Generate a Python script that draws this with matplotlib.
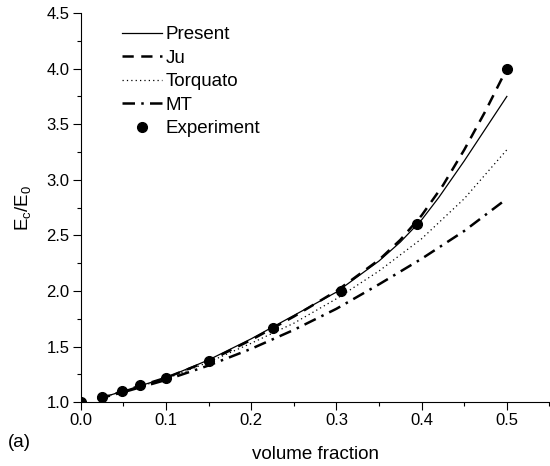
import numpy as np
import matplotlib
matplotlib.use("Agg")
import matplotlib.pyplot as plt
from matplotlib.ticker import MultipleLocator

plt.rcParams['font.family'] = ['Liberation Sans', 'DejaVu Sans']
plt.rcParams['mathtext.fontset'] = 'custom'
plt.rcParams['mathtext.rm'] = 'Liberation Sans'
plt.rcParams['mathtext.it'] = 'Liberation Sans:italic'

# curves
present_x = [0.02, 0.05, 0.1, 0.15, 0.2, 0.25, 0.3, 0.35, 0.375, 0.4, 0.42, 0.45, 0.475, 0.5]
present_y = [1.03, 1.10, 1.22, 1.38, 1.57, 1.78, 1.99, 2.27, 2.44, 2.64, 2.84, 3.17, 3.46, 3.75]

ju_x = [0.02, 0.05, 0.1, 0.15, 0.2, 0.25, 0.3, 0.35, 0.375, 0.4, 0.425, 0.45, 0.475, 0.5]
ju_y = [1.03, 1.10, 1.22, 1.37, 1.56, 1.77, 2.00, 2.28, 2.46, 2.68, 2.95, 3.27, 3.62, 4.00]

torq_x = [0.02, 0.05, 0.1, 0.15, 0.2, 0.25, 0.3, 0.35, 0.4, 0.45, 0.5]
torq_y = [1.03, 1.10, 1.21, 1.36, 1.53, 1.71, 1.93, 2.18, 2.47, 2.83, 3.27]

mt_x = [0.02, 0.05, 0.1, 0.15, 0.2, 0.25, 0.3, 0.35, 0.4, 0.45, 0.5]
mt_y = [1.03, 1.09, 1.20, 1.33, 1.48, 1.65, 1.84, 2.06, 2.29, 2.54, 2.83]

exp_x = [0.0, 0.025, 0.048, 0.07, 0.1, 0.15, 0.225, 0.305, 0.395, 0.5]
exp_y = [1.0, 1.05, 1.10, 1.15, 1.22, 1.37, 1.67, 2.00, 2.60, 4.00]

fig = plt.figure(figsize=(5.5, 4.66), dpi=100)
ax = fig.add_axes([0.147, 0.137, 0.852, 0.835])

ax.plot(present_x, present_y, color='k', lw=0.9, label='Present')
ax.plot(ju_x, ju_y, color='k', lw=1.8, ls=(0, (4.5, 3)), label='Ju')
ax.plot(torq_x, torq_y, color='k', lw=0.9, ls=(0, (1, 2.5)), label='Torquato')
ax.plot(mt_x, mt_y, color='k', lw=1.8, ls=(0, (5, 2.5, 1, 2.5)), label='MT')
ax.plot(exp_x, exp_y, 'o', color='k', ms=7, label='Experiment')

ax.set_xlim(0, 0.55)
ax.set_ylim(1.0, 4.5)
ax.xaxis.set_major_locator(MultipleLocator(0.1))
ax.xaxis.set_minor_locator(MultipleLocator(0.05))
ax.yaxis.set_major_locator(MultipleLocator(0.5))
ax.yaxis.set_minor_locator(MultipleLocator(0.25))
ax.tick_params(which='major', length=5.5, width=0.8, labelsize=12, pad=2.5)
ax.tick_params(which='minor', length=3, width=0.8)
ax.spines['top'].set_visible(False)
ax.spines['right'].set_visible(False)

ax.set_xlabel('volume fraction', fontsize=13.5, labelpad=13)
ax.set_ylabel(r'E$_\mathrm{c}$/E$_\mathrm{0}$', fontsize=13.5, labelpad=10)
fig.text(0.014, 0.04, '(a)', fontsize=13.5)

ax.legend(loc='upper left', bbox_to_anchor=(0.087, 0.966), frameon=False,
          borderaxespad=0, borderpad=0,
          fontsize=13.5, handlelength=2.15, handletextpad=0.2, labelspacing=0.34)

fig.savefig('out.png', dpi=100)
